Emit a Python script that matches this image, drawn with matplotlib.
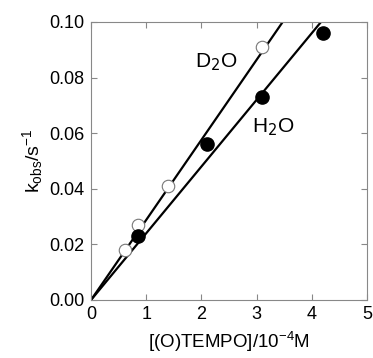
import numpy as np
import matplotlib
matplotlib.use("Agg")
import matplotlib.pyplot as plt

plt.rcParams['font.family'] = ['Liberation Sans', 'DejaVu Sans']
plt.rcParams['mathtext.fontset'] = 'custom'
plt.rcParams['mathtext.rm'] = 'Liberation Sans'
plt.rcParams['mathtext.it'] = 'Liberation Sans'

# open circles, D2O
x_d2o = [0.62, 0.85, 1.40, 3.10]
k_d2o = [0.018, 0.027, 0.041, 0.091]
# filled circles, H2O
x_h2o = [0.85, 2.10, 3.10, 4.20]
k_h2o = [0.023, 0.056, 0.073, 0.096]

# slopes of the fitted lines through the origin
slope_d2o = 0.0288
slope_h2o = 0.0240

fig = plt.figure(figsize=(3.73, 3.58), dpi=100)
ax = fig.add_axes([91/373, 1 - 300/358, 276/373, 278/358])

xx = np.array([0, 5])
ax.plot(xx, slope_d2o * xx, color='black', lw=1.6, zorder=2)
ax.plot(xx, slope_h2o * xx, color='black', lw=1.6, zorder=2)

ax.plot(x_d2o, k_d2o, 'o', ms=9, mfc='white', mec='#777777', mew=0.8, zorder=3)
ax.plot(x_h2o, k_h2o, 'o', ms=9.5, mfc='black', mec='black', zorder=3)

ax.text(1.88, 0.0855, 'D$_{\\mathsf{2}}$O', fontsize=15, va='center')
ax.text(2.92, 0.062, 'H$_{\\mathsf{2}}$O', fontsize=15, va='center')

ax.set_xlim(0, 5)
ax.set_ylim(0, 0.10)
ax.set_xticks([0, 1, 2, 3, 4, 5])
ax.set_yticks([0, 0.02, 0.04, 0.06, 0.08, 0.10])
ax.set_yticklabels(['0.00', '0.02', '0.04', '0.06', '0.08', '0.10'])
ax.tick_params(direction='in', top=True, right=True, length=4, color='#888888',
               labelsize=13)
ax.tick_params(axis='x', pad=4)
ax.tick_params(axis='y', pad=5)
for s in ax.spines.values():
    s.set_color('#888888')
    s.set_linewidth(0.8)

ax.set_xlabel('[(O)TEMPO]/10$^{-4}$M', fontsize=13.5, labelpad=5)
ax.set_ylabel('k$_{\\rm obs}$/s$^{-1}$', fontsize=14, labelpad=3)

fig.savefig('out.png', dpi=100)
